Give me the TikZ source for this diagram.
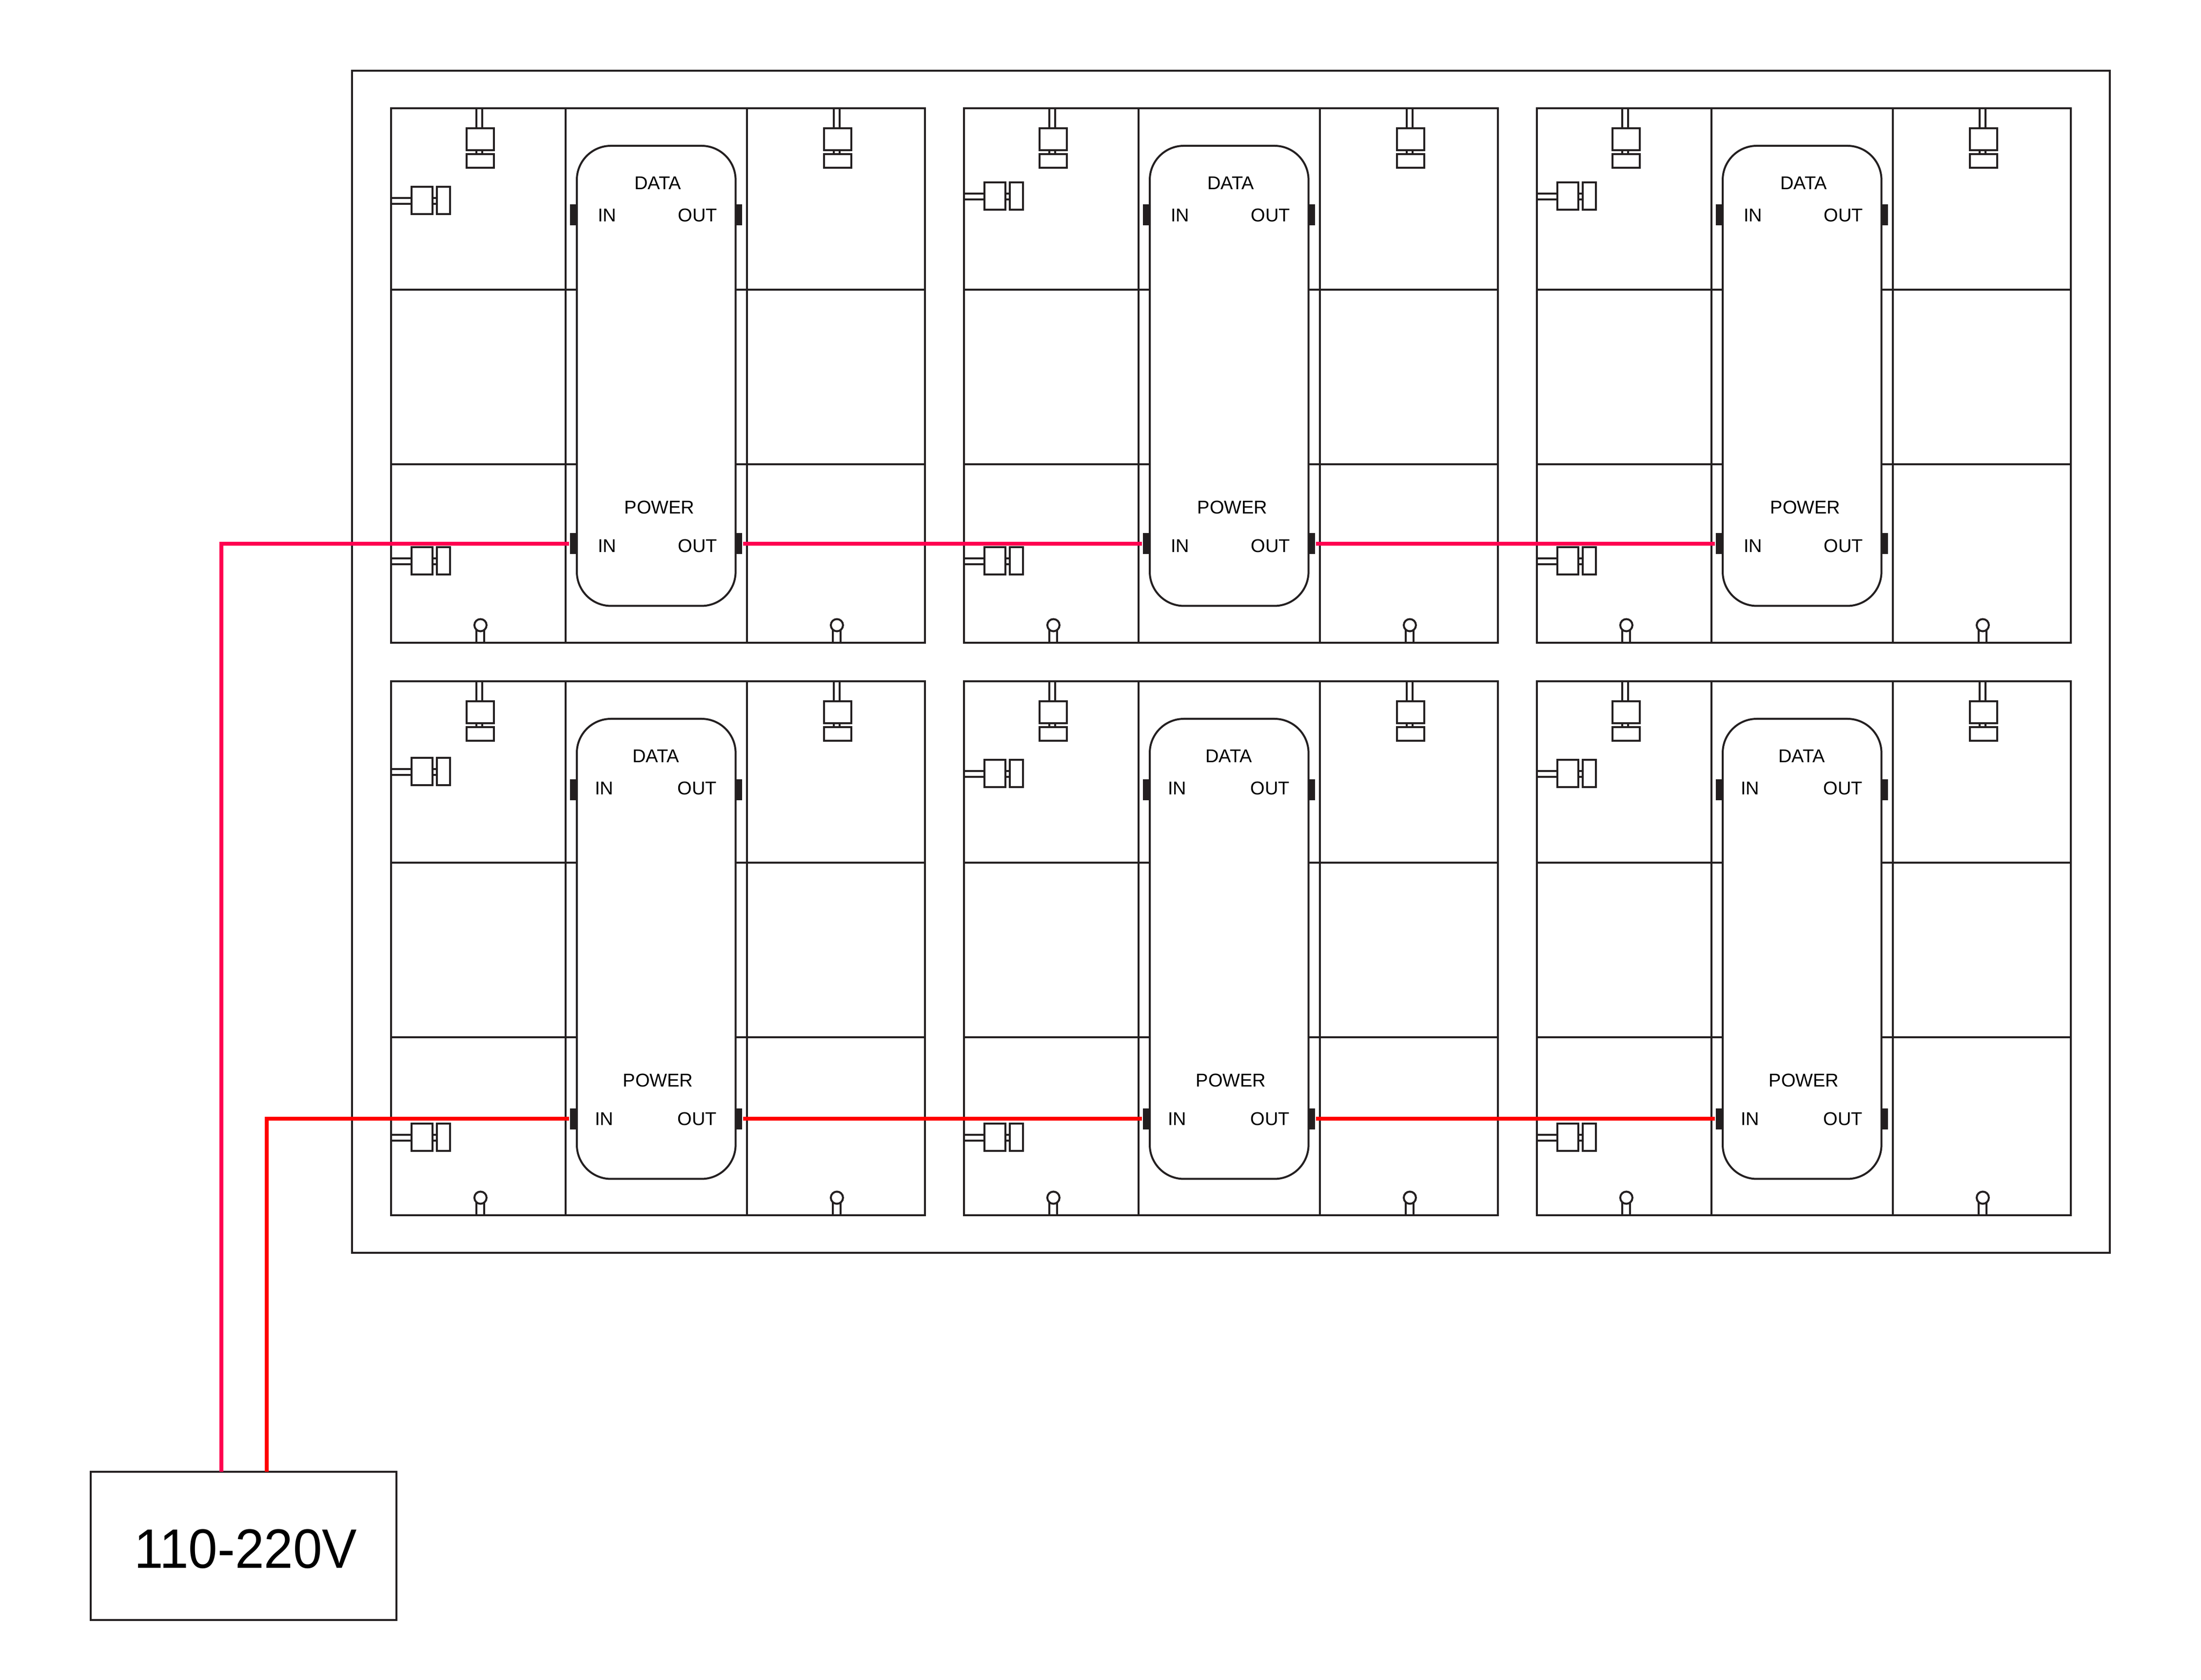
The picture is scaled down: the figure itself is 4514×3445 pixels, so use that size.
\documentclass[tikz,border=0pt]{standalone}
\usepackage{graphicx}
\usepackage{fontspec}
\setmainfont{Liberation Sans}
\definecolor{ink}{HTML}{231F20}
\definecolor{pinkline}{HTML}{FF0050}
\definecolor{redline}{HTML}{FF0000}
\tikzset{
  wire/.style={draw=ink,line width=0.4pt},
  pinblock/.style={rectangle,fill=ink,draw=none,inner sep=0pt,minimum width=1.3pt,minimum height=4.3pt},
  lbl/.style={inner sep=0pt,outer sep=0pt,font=\fontsize{3.8}{4.2}\selectfont,text=black},
  power/.style={line width=0.8pt,line join=miter}
}
% top connector: #1 = x of cell origin, #2 = y of panel top
\newcommand{\topplug}[2]{%
  \begin{scope}[shift={(#1,#2)}]
    \draw[wire] (175.4,0) -- (175.4,41) (187,0) -- (187,41) (175.4,86) -- (175.4,94) (187,86) -- (187,94);
    \draw[wire] (155,41) rectangle (211,86);
    \draw[wire] (155,94) rectangle (211,122);
  \end{scope}}
% side connector: #1 = panel left, #2 = centre y
\newcommand{\sideplug}[2]{%
  \begin{scope}[shift={(#1,#2)}]
    \draw[wire] (0,-5) -- (42,-5) (0,7) -- (42,7) (85,-5) -- (94,-5) (85,7) -- (94,7);
    \draw[wire] (42,-28) rectangle (85,28);
    \draw[wire] (94,-28) rectangle (121,28);
  \end{scope}}
% bottom knob: #1 = x of cell origin, #2 = y of panel bottom
\newcommand{\knob}[2]{%
  \begin{scope}[shift={(#1,#2)}]
    \draw[wire] (175.4,0) -- (175.4,-30) (190.8,0) -- (190.8,-30);
    \draw[wire,fill=white] (183.4,-36) circle[radius=1.25pt];
  \end{scope}}
\begin{document}
\begin{tikzpicture}[x=0.1pt,y=-0.1pt]
\useasboundingbox (0,0) rectangle (4514,3445);
\node[wire,rectangle,inner sep=0pt,minimum width=360.5pt,minimum height=242.4pt] (frame) at (2524.5,1357) {};
\foreach \r/\dy in {1/0,2/1175}{
  \foreach \c/\dx in {1/0,2/1175,3/2350}{
    \pgfmathsetmacro{\L}{802+\dx}
    \pgfmathsetmacro{\T}{222+\dy}
    \pgfmathsetmacro{\B}{1318+\dy-(\r-1)*1}
    % per row values
    \ifnum\r=1
      \def\dataY{440.5}\def\powY{1115}\def\lowY{1150.5}\def\lblY{1119}
      \def\dataLX{1349}\def\inLX{1245}\def\outLX{1431}\def\powLX{1352.5}
    \else
      \def\dataY{444.7}\def\powY{1119.3}\def\lowY{1157.5}\def\lblY{1119}
      \def\dataLX{1345}\def\inLX{1239}\def\outLX{1430}\def\powLX{1349.5}
    \fi
    \ifnum\c=1
      \ifnum\r=1 \def\upY{411}\else\def\upY{406.7}\fi
    \else
      \ifnum\r=1 \def\upY{402}\else\def\upY{411}\fi
    \fi
    \begin{scope}
      % panel
      \draw[wire] (\L,\T) rectangle ({\L+1095},\B);
      \draw[wire] ({\L+358},\T) -- ({\L+358},\B);
      \draw[wire] ({\L+730},\T) -- ({\L+730},\B);
      \draw[wire] (\L,{594+\dy}) -- ({\L+1095},{594+\dy});
      \draw[wire] (\L,{952+\dy}) -- ({\L+1095},{952+\dy});
      % plugs
      \topplug{\L}{\T}
      \topplug{\L+733}{\T}
      \sideplug{\L}{\upY+\dy}
      \sideplug{\L}{\lowY+\dy}
      \knob{\L}{\B}
      \knob{\L+731}{\B}
      % module
      \draw[wire,fill=white,rounded corners=7pt] (1183+\dx,299+\dy) rectangle (1508.6+\dx,1242.5+\dy);
      \node[pinblock] (din\r\c) at ({1175.5+\dx},{\dataY+\dy}) {};
      \node[pinblock] (dout\r\c) at ({1515.5+\dx},{\dataY+\dy}) {};
      \node[pinblock] (pin\r\c) at ({1175.5+\dx},{\powY+\dy}) {};
      \node[pinblock] (pout\r\c) at ({1515.5+\dx},{\powY+\dy}) {};
      % labels
      \node[lbl] (ldata\r\c) at ({\dataLX+\dx},{375+\dy}) {DATA};
      \node[lbl] (ldin\r\c) at ({\inLX+\dx},{441+\dy}) {IN};
      \node[lbl] (ldout\r\c) at ({\outLX+\dx},{441+\dy}) {OUT};
      \node[lbl] (lpow\r\c) at ({\powLX+\dx},{1040.5+\dy}) {POWER};
      \node[lbl] (lpin\r\c) at ({\inLX+\dx},{\lblY+\dy}) {IN};
      \node[lbl] (lpout\r\c) at ({\outLX+\dx},{\lblY+\dy}) {OUT};
    \end{scope}
  }
}
% power supply
\node[wire,rectangle,inner sep=0pt,minimum width=62.7pt,minimum height=30.4pt] (psu) at (499.2,3170) {};
\node[inner sep=0pt,font=\fontsize{11.4}{12}\selectfont,text=black] (psutext) at (504,3176) {\scalebox{0.94}[1]{110-220V}};
\coordinate (pinkstart) at (454,3018);
\coordinate (redstart) at (547,3018);
% power wiring
\draw[power,pinkline] (pinkstart) |- (pin11.west);
\draw[power,pinkline] (pout11.east) -- (pin12.west);
\draw[power,pinkline] (pout12.east) -- (pin13.west);
\draw[power,redline] (redstart) |- (pin21.west);
\draw[power,redline] (pout21.east) -- (pin22.west);
\draw[power,redline] (pout22.east) -- (pin23.west);
\end{tikzpicture}
\end{document}
